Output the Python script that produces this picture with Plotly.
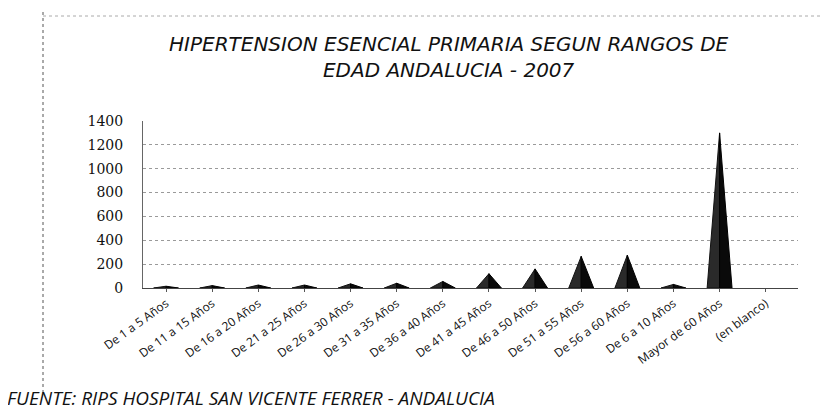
import plotly.graph_objects as go

categories = ["De 1 a 5 Años", "De 11 a 15 Años", "De 16 a 20 Años", "De 21 a 25 Años",
              "De 26 a 30 Años", "De 31 a 35 Años", "De 36 a 40 Años", "De 41 a 45 Años",
              "De 46 a 50 Años", "De 51 a 55 Años", "De 56 a 60 Años", "De 6 a 10 Años",
              "Mayor de 60 Años", "(en blanco)"]
values = [15, 20, 25, 25, 35, 40, 55, 120, 160, 265, 275, 30, 1300, 0]
y_ticks = [0, 200, 400, 600, 800, 1000, 1200, 1400]

title_text = "HIPERTENSION ESENCIAL PRIMARIA SEGUN RANGOS DE<br>EDAD ANDALUCIA - 2007"
source_text = "FUENTE: RIPS HOSPITAL SAN VICENTE FERRER - ANDALUCIA"

half_w = 0.27

# build pyramid faces (left and right) from data
lx, ly, rx, ry = [], [], [], []
for i, v in enumerate(values):
    if v <= 0:
        continue
    lx += [i - half_w, i, i, i - half_w, None]
    ly += [0, v, 0, 0, None]
    rx += [i, i + half_w, i, i, None]
    ry += [0, 0, v, 0, None]

fig = go.Figure()
fig.add_trace(go.Scatter(x=lx, y=ly, fill="toself", mode="lines",
                         line=dict(color="#111111", width=1),
                         fillcolor="#2a2a2a", hoverinfo="skip", showlegend=False))
fig.add_trace(go.Scatter(x=rx, y=ry, fill="toself", mode="lines",
                         line=dict(color="#000000", width=1),
                         fillcolor="#0a0a0a", hoverinfo="skip", showlegend=False))

L, R, T, B = 135, 38, 113, 130
W, H = 828, 410
pw = W - L - R
ph = H - T - B

def px2paper_x(px):
    return (px - L) / pw

def py2paper_y(py):
    return (H - B - py) / ph

fig.update_layout(
    width=W, height=H,
    margin=dict(l=L, r=R, t=T, b=B),
    paper_bgcolor="white", plot_bgcolor="white",
    xaxis=dict(range=[-0.5, 13.7], tickmode="array", tickvals=list(range(len(categories))),
               ticktext=categories, tickangle=-36, showgrid=False, zeroline=False,
               showline=True, linecolor="#444444", linewidth=1,
               ticks="outside", ticklen=3, tickcolor="#555555",
               tickfont=dict(family="Open Sans", size=12, color="#111111")),
    yaxis=dict(range=[0, 1400], tickmode="array", tickvals=y_ticks,
               showgrid=True, gridcolor="#9a9a9a", griddash="dot", gridwidth=1,
               zeroline=False, showline=True, linecolor="#666666", linewidth=1,
               ticks="outside", ticklen=16, tickcolor="rgba(0,0,0,0)",
               tickfont=dict(family="DejaVu Serif", size=14, color="#111111")),
    shapes=[
        dict(type="line", xref="paper", yref="paper",
             x0=px2paper_x(35), x1=px2paper_x(35), y0=py2paper_y(4), y1=py2paper_y(385),
             line=dict(color="#555555", width=1, dash="dot")),
        dict(type="line", xref="paper", yref="paper",
             x0=px2paper_x(35), x1=px2paper_x(828), y0=py2paper_y(8), y1=py2paper_y(8),
             line=dict(color="#aaaaaa", width=1, dash="dot")),
    ],
    annotations=[
        dict(text=title_text, xref="paper", yref="paper",
             x=px2paper_x(441), y=py2paper_y(49), xanchor="center", yanchor="middle",
             showarrow=False,
             font=dict(family="DejaVu Sans", size=20, color="#111111", style="italic")),
        dict(text=source_text, xref="paper", yref="paper",
             x=px2paper_x(-2), y=py2paper_y(404), xanchor="left", yanchor="bottom",
             showarrow=False, borderpad=0,
             font=dict(family="Open Sans", size=19, color="#111111", style="italic")),
    ],
)

fig.write_html("out.html")
